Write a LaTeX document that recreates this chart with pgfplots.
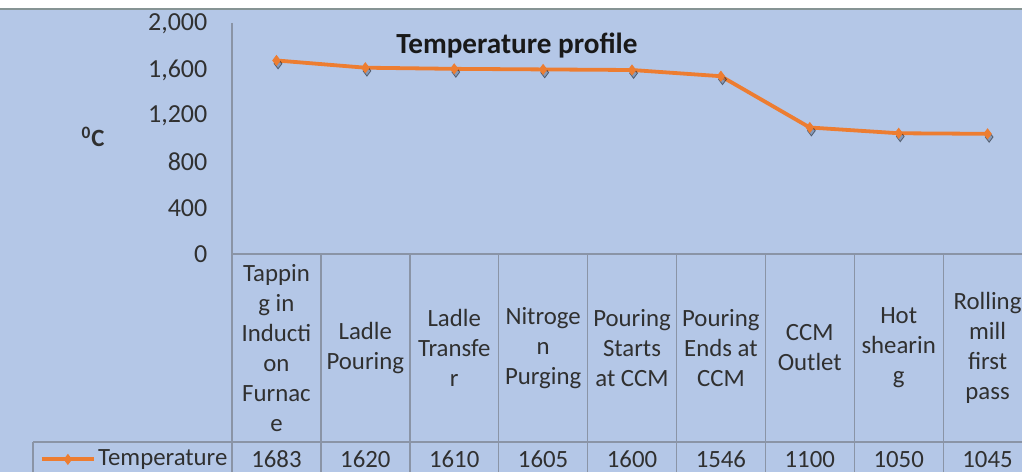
\documentclass[border=0pt]{standalone}
\usepackage{pgfplots}
\pgfplotsset{compat=1.18}
\usepackage{fontspec}
\setmainfont{Carlito}
\definecolor{bgblue}{HTML}{B4C7E7}
\definecolor{lineor}{HTML}{ED7D31}
\definecolor{gridgray}{HTML}{8A94A6}
\definecolor{txt}{HTML}{303030}
\definecolor{shadowc}{HTML}{4F6180}
\begin{document}
\fontsize{12.4}{15}\selectfont
\begin{tikzpicture}
\useasboundingbox (0pt,0pt) rectangle (511pt,236pt);
\clip (0pt,0pt) rectangle (511pt,236pt);
\fill[bgblue] (0pt,0pt) rectangle (511pt,236pt);
\fill[white] (0pt,232pt) rectangle (511pt,236pt);
\fill[gray!70!teal!60!black!60] (0pt,231pt) rectangle (511pt,232pt);
% table grid
\begin{scope}[gridgray, line width=0.7pt]
\draw (116pt,224.5pt) -- (116pt,0pt);
\draw (116pt,109pt) -- (511pt,109pt);
\draw (16.5pt,15pt) -- (511pt,15pt);
\draw (16.5pt,15pt) -- (16.5pt,0pt);
\foreach \k in {1,...,8} {\draw ({116pt+44.45pt*\k},109pt) -- ({116pt+44.45pt*\k},0pt);}
\end{scope}
\node[text=black!90, font=\fontsize{14.6}{17}\selectfont\bfseries] at (258.5pt,213pt) {Temperature profile};
\node[txt, font=\fontsize{12.4}{15}\selectfont\bfseries] at (46.5pt,167.5pt) {\textsuperscript{0}C};
\begin{axis}[
  at={(116pt,109pt)}, anchor=south west,
  scale only axis, width=400pt, height=115pt,
  xmin=-0.5, xmax=8.5, ymin=0, ymax=2000,
  axis line style={draw=none},
  clip=false,
  ytick={0,400,...,2000},
  major tick length=0pt,
  /pgf/number format/.cd, 1000 sep={,}, assume math mode=true,
  /pgfplots/.cd,
  yticklabel style={anchor=east, xshift=-8pt, text=txt, font=\fontsize{13}{15}\selectfont},
  xtick={0,...,8},
  xticklabels={{Tappin\\g in\\Inducti\\on\\Furnac\\e},{Ladle\\Pouring},{Ladle\\Transfe\\r},{Nitroge\\n\\Purging},{Pouring\\Starts\\at CCM},{Pouring\\Ends at\\CCM},{CCM\\Outlet},{Hot\\shearin\\g},{Rolling\\mill\\first\\pass}},
  xticklabel style={anchor=center, align=center, yshift=-47pt, text=txt, font=\fontsize{12.4}{15}\selectfont},
  extra x ticks={0,...,8},
  extra x tick labels={1683,1620,1610,1605,1600,1546,1100,1050,1045},
  extra x tick style={xticklabel style={yshift=-55.7pt}},
  legend style={at={(-0.24,-0.893)}, anchor=west, draw=none, fill=none, inner sep=0pt, outer sep=0pt,
    nodes={inner sep=1.2pt, text=txt}, font=\fontsize{12.4}{15}\selectfont},
  legend image code/.code={\draw[mark repeat=2,mark phase=2,#1] plot coordinates {(0pt,0pt)(13pt,0pt)(26pt,0pt)};},
]
\addplot[forget plot, only marks, mark=diamond*, mark size=2.6pt, draw=none, fill=shadowc, opacity=0.45,
  shift={(0.8pt,-1.6pt)}]
  coordinates {(0,1683)(1,1620)(2,1610)(3,1605)(4,1600)(5,1546)(6,1100)(7,1050)(8,1045)};
\addplot[lineor, line width=1.9pt, mark=diamond*, mark size=2.4pt, mark options={fill=lineor, draw=lineor, line width=0.5pt}]
  coordinates {(0,1683)(1,1620)(2,1610)(3,1605)(4,1600)(5,1546)(6,1100)(7,1050)(8,1045)};
\addlegendentry{Temperature}
\end{axis}
\end{tikzpicture}
\end{document}
